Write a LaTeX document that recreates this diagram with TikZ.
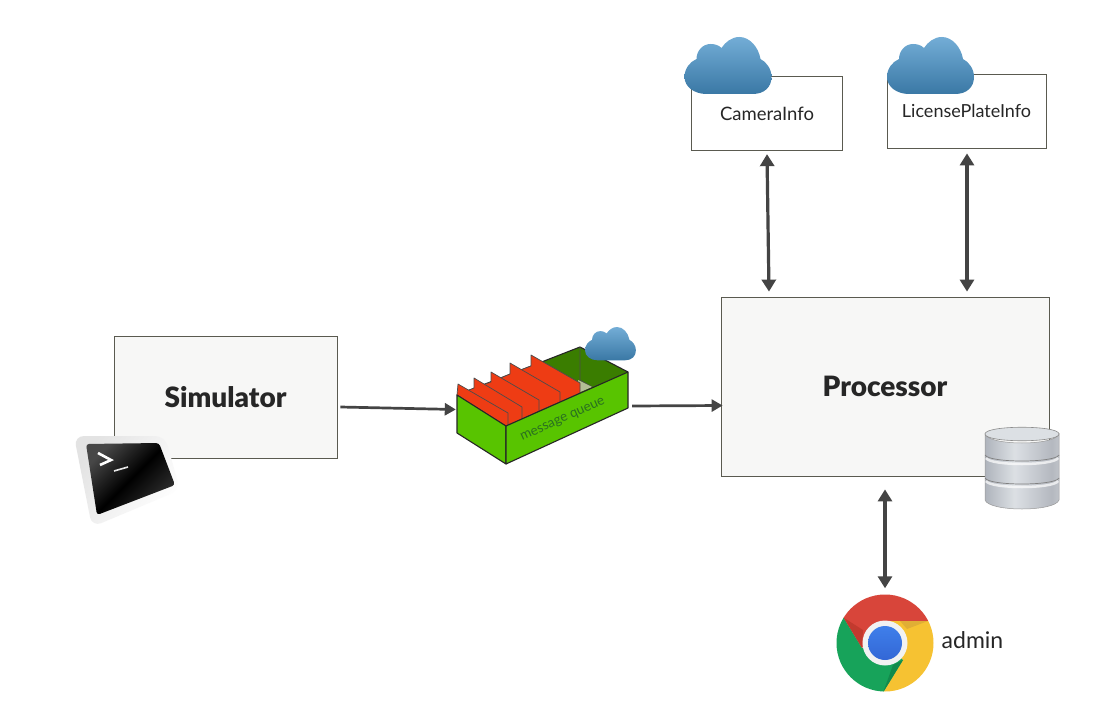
\documentclass[tikz,border=0pt]{standalone}
\usepackage{fontspec}
\setmainfont[BoldFont={Lato Black}]{Lato}
\usetikzlibrary{arrows.meta,calc}
\definecolor{ink}{HTML}{262626}
\definecolor{arrowc}{HTML}{444444}
\definecolor{boxline}{HTML}{5A5A50}
\definecolor{lightbox}{HTML}{F7F7F6}
\definecolor{cloudtop}{HTML}{73ADD6}
\definecolor{cloudbot}{HTML}{3A78A5}
\definecolor{qgreen}{HTML}{58C400}
\definecolor{qdark}{HTML}{3A7D00}
\definecolor{qred}{HTML}{EE3C14}
\definecolor{qtext}{HTML}{2A7020}
\definecolor{qfloor}{HTML}{B4BE96}
\definecolor{chred}{HTML}{D8453A}
\definecolor{chreddark}{HTML}{C23A2E}
\definecolor{chyellow}{HTML}{F6C232}
\definecolor{chyellowdark}{HTML}{E0AE35}
\definecolor{chgreen}{HTML}{17A35A}
\definecolor{chgreendark}{HTML}{128A4B}
\definecolor{chbluetop}{HTML}{3F7FEA}
\definecolor{chbluebot}{HTML}{3367D6}
\definecolor{silA}{HTML}{8A8F9A}
\definecolor{silB}{HTML}{A8ADB6}
\definecolor{silC}{HTML}{DCE0E4}
\definecolor{silD}{HTML}{B4B8BF}
\pgfdeclarehorizontalshading{silver}{100bp}{color(0bp)=(silA);color(22bp)=(silB);color(45bp)=(silC);color(70bp)=(silD);color(88bp)=(silC);color(100bp)=(silA)}
\tikzset{
  infobox/.style={draw=boxline,line width=0.8pt,fill=white,inner sep=0pt,text=ink,font=\fontsize{18.5}{20}\selectfont},
  mainbox/.style={draw=boxline,line width=0.8pt,fill=lightbox,inner sep=0pt,text=ink,font=\fontsize{28}{30}\selectfont\bfseries},
  flow/.style={draw=arrowc,line width=2.7pt,-{Triangle[length=11pt,width=12pt]}},
  both/.style={draw=arrowc,line width=3.2pt,{Triangle[length=12pt,width=14pt]}-{Triangle[length=12pt,width=14pt]}},
  cloudfill/.style={top color=cloudtop,bottom color=cloudbot,draw=none},
  qedge/.style={draw=black!85,line width=1.1pt,line join=round},
  redpart/.style={fill=qred,draw=black!70,line width=0.7pt,line join=round},
  dbband/.style={draw=black!50,line width=0.7pt},
  dbshine/.style={draw=white,opacity=0.7,line width=2.5pt},
}
\newcommand{\cloudicon}[3]{%
 \begin{scope}[shift={(#1,#2)},scale=#3]
  \path[cloudfill] (22,57) -- (68,57) .. controls (80,57) and (87,50) .. (87,40)
   .. controls (87,32) and (82,25) .. (76,22) .. controls (74,10) and (65,0) .. (55,0)
   .. controls (47,0) and (41,5) .. (37,11) .. controls (34,8) and (30,7) .. (26,7)
   .. controls (18,7) and (12,14) .. (12,22) .. controls (5,25) and (0,32) .. (0,40)
   .. controls (0,50) and (10,57) .. (22,57) -- cycle;
 \end{scope}}
\newcommand{\dbband}[1]{%
  \draw[dbshine] (986,#1+3) .. controls (990,#1+11) and (1054,#1+11) .. (1058,#1+3);
  \draw[dbband] (985,#1) .. controls (989,#1+8) and (1055,#1+8) .. (1059,#1);
}
\begin{document}
\begin{tikzpicture}[x=1pt,y=-1pt]
\useasboundingbox (0,0) rectangle (1111,714);
\fill[white] (0,0) rectangle (1111,714);

% boxes
\node[mainbox,minimum width=223pt,minimum height=122pt] (sim) at (225.5,397) {Simulator};
\node[mainbox,minimum width=328pt,minimum height=179pt] (proc) at (885,386.5) {Processor};
\node[infobox,minimum width=151.5pt,minimum height=73.5pt] (cam) at (767,113.5) {\raisebox{-7pt}[0pt][0pt]{CameraInfo}};
\node[infobox,minimum width=159pt,minimum height=74pt,font=\fontsize{18}{20}\selectfont] (lic) at (966.5,111) {\raisebox{-7pt}[0pt][0pt]{LicensePlateInfo}};

% clouds on the info boxes
\cloudicon{684.5}{37}{1}
\cloudicon{887}{37}{1}

% invisible anchor nodes for the icons
\node[inner sep=0pt,minimum width=171pt,minimum height=117pt] (queue) at (542.5,405.5) {};
\node[circle,inner sep=0pt,minimum size=97pt] (chrome) at (885,643) {};

% message queue
\fill[qdark] (457,395) -- (580,347) -- (628,372) -- (506,426) -- cycle;
\draw[qedge] (457,395) -- (580,347) -- (628,372);
\draw[black!70,line width=0.8pt] (580,347) -- (580,380) -- (592,387);
\fill[qfloor] (578,380) -- (592,387) -- (578,393) -- cycle;
\draw[redpart] (531,355) -- (580,383) -- (580,393) -- (560,402) -- (510,374) -- (531,366) -- cycle;
\draw[redpart] (510,363) -- (560,392) -- (560,402) -- (539,411) -- (491,382) -- (510,374) -- cycle;
\draw[redpart] (491,372) -- (539,400) -- (539,411) -- (522,419) -- (474,388) -- (491,382) -- cycle;
\draw[redpart] (474,378) -- (522,407) -- (522,419) -- (508,425) -- (457,395) -- (474,388) -- cycle;
\draw[redpart] (458,384) -- (508,413) -- (508,425) -- (506,426) -- (457,395) -- cycle;
\path[fill=qgreen,qedge] (457,395) -- (506,426) -- (506,464) -- (457,433) -- cycle;
\path[fill=qgreen,qedge] (506,426) -- (628,372) -- (628,408) -- (506,464) -- cycle;
\node[rotate=24,text=qtext,font=\fontsize{13.5}{15}\selectfont,inner sep=0pt] (qlabel) at (563,420) {message queue};
\cloudicon{585}{327}{0.585}

% terminal icon
\shade[rounded corners=10pt,top color=black!11,bottom color=white,shading angle=55] (74,436) -- (165,436) -- (180,490) -- (92,527) -- cycle;
\shade[rounded corners=3pt,left color=black!72,right color=black!80,middle color=black,shading angle=45] (86,444) -- (159,443) -- (175,485) -- (97,515) -- cycle;
\draw[white,line width=2.6pt] (98,453) -- (111,460) -- (100,465);
\draw[white!90!black,line width=1.6pt] (114,471) -- (128,467);

% database
\path[shading=silver,draw=black!40,line width=0.5pt] (985,434) -- (985,500) .. controls (989,512) and (1055,512) .. (1059,500) -- (1059,434) .. controls (1055,446) and (989,446) .. (985,434) -- cycle;
\dbband{455}
\dbband{478}
\path[fill=silC,draw=black!45,line width=0.6pt] (985,434) .. controls (985,425) and (1059,425) .. (1059,434) .. controls (1059,443) and (985,443) .. (985,434) -- cycle;

% chrome icon
\begin{scope}
 \clip (885,643) circle[radius=48.5pt];
 \fill[chred] (780,560) -- (990,560) -- (990,621) -- (885,621) -- (862,648) -- (843.6,617.7) -- (820,580) -- cycle;
 \fill[chyellow] (928,621) -- (990,621) -- (990,700) -- (883,700) -- (883,692) -- (903,660) -- (885,643) -- (885,621) -- cycle;
 \fill[chgreen] (843.6,617.7) -- (862,648) -- (885,643) -- (903,660) -- (883.3,692) -- (883,700) -- (780,700) -- (780,580) -- cycle;
 \fill[chreddark] (843.6,617.7) -- (862,648) -- (863,630) -- cycle;
 \fill[chyellowdark] (900,621) -- (928,621) -- (907,629) -- cycle;
 \fill[chgreendark] (883.3,692) -- (903,660) -- (893,665) -- cycle;
\end{scope}
\fill[black!5] (885,643) circle[radius=22.5pt];
\shade[top color=chbluetop,bottom color=chbluebot] (885,643) circle[radius=17pt];
\node[text=ink,font=\fontsize{23}{25}\selectfont,inner sep=0pt] (adminlabel) at (972.5,640) {admin};

% connectors
\draw[flow] ($(sim.east)+(3,10)$) -- ($(queue.west)+(-1,4)$);
\draw[flow] ($(queue.east)+(4,0.5)$) -- ($(proc.west)+(2,19)$);
\draw[both] ($(cam.south)+(0,3.5)$) -- ($(proc.north)+(-116,-5)$);
\draw[both] ($(lic.south)+(0.5,5)$) -- ($(proc.north)+(82,-5)$);
\draw[both] ($(proc.south)+(0,13)$) -- ($(chrome.north)+(0,-6)$);
\end{tikzpicture}
\end{document}
